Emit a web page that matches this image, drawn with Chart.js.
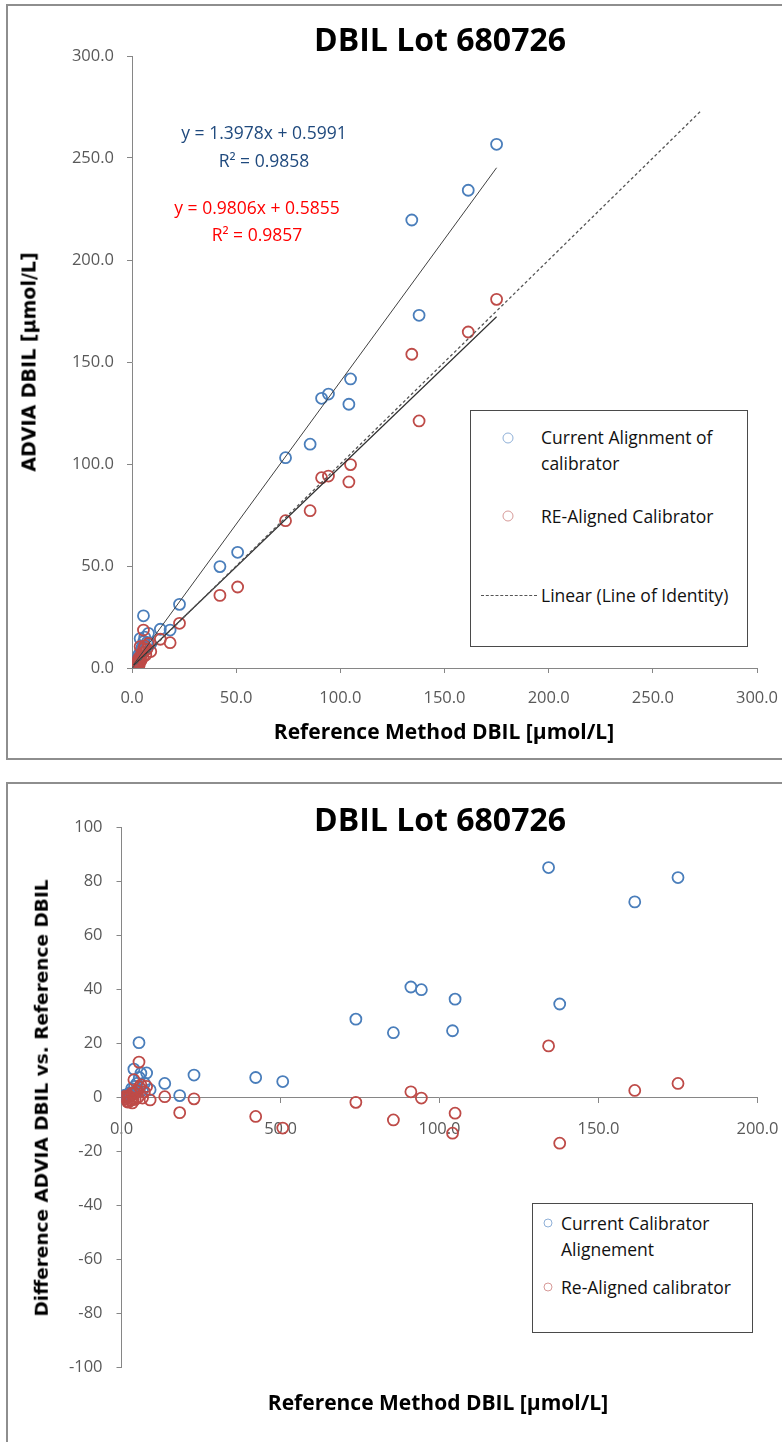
<!DOCTYPE html>
<html>
<head>
<meta charset="utf-8">
<script src="https://cdn.jsdelivr.net/npm/chart.js@4.4.1/dist/chart.umd.min.js"></script>
<style>
html,body{margin:0;padding:0;background:#fff;}
body{width:782px;height:1442px;position:relative;overflow:hidden;font-family:'Open Sans',sans-serif;color:#000;}
.frame{position:absolute;border:2px solid #8e8e8e;box-sizing:border-box;}
.wrap{position:absolute;left:0;width:782px;}
.t{position:absolute;white-space:nowrap;transform:translate(-50%,-50%);line-height:1;}
.title{font-family:'Open Sans',sans-serif;font-weight:700;font-size:32px;color:#000;}
.xt{font-family:'Open Sans',sans-serif;font-weight:700;font-size:21px;color:#000;}
.yt{font-family:'DejaVu Sans',sans-serif;font-weight:700;color:#000;transform:translate(-50%,-50%) rotate(-90deg);}
.eq{font-family:'Open Sans',sans-serif;font-size:17.5px;}
.legend{position:absolute;border:1.5px solid #4a4a4a;box-sizing:border-box;background:#fff;}
.lt{position:absolute;white-space:nowrap;font-family:'Open Sans',sans-serif;font-size:17.5px;line-height:26px;color:#111;}
.mk{position:absolute;border-radius:50%;box-sizing:border-box;transform:translate(-50%,-50%);}
</style>
</head>
<body>
<div class="frame" style="left:6px;top:4px;width:800px;height:756px;"></div>
<div class="frame" style="left:6px;top:782px;width:800px;height:700px;"></div>

<div class="wrap" style="top:0;height:760px;"><canvas id="c1"></canvas></div>
<div class="wrap" style="top:770px;height:672px;"><canvas id="c2"></canvas></div>

<!-- top chart texts -->
<div class="t title" style="left:440px;top:39px;">DBIL Lot 680726</div>
<div class="t yt" style="left:29px;top:362px;font-size:19px;">ADVIA DBIL [µmol/L]</div>
<div class="t xt" style="left:444px;top:731px;">Reference Method DBIL [µmol/L]</div>
<div class="t eq" style="left:264px;top:133px;color:#1F497D;">y = 1.3978x + 0.5991</div>
<div class="t eq" style="left:264px;top:161px;color:#1F497D;">R² = 0.9858</div>
<div class="t eq" style="left:257px;top:208px;color:#FF0000;">y = 0.9806x + 0.5855</div>
<div class="t eq" style="left:257px;top:235px;color:#FF0000;">R² = 0.9857</div>

<div class="legend" style="left:470px;top:410px;width:278px;height:237px;"></div>
<div class="mk" style="left:508px;top:438px;width:11px;height:11px;border:1.3px solid #8fb0d8;"></div>
<div class="lt" style="left:541px;top:424px;">Current Alignment of<br>calibrator</div>
<div class="mk" style="left:508px;top:516px;width:11px;height:11px;border:1.3px solid #d79a98;"></div>
<div class="lt" style="left:541px;top:503px;">RE-Aligned Calibrator</div>
<div style="position:absolute;left:481px;top:595px;width:56px;height:0;border-top:1.5px dashed #555;"></div>
<div class="lt" style="left:541px;top:582px;">Linear (Line of Identity)</div>

<!-- bottom chart texts -->
<div class="t title" style="left:440px;top:819px;">DBIL Lot 680726</div>
<div class="t yt" style="left:42px;top:1098px;font-size:18.5px;">Difference ADVIA DBIL vs. Reference DBIL</div>
<div class="t xt" style="left:438px;top:1402px;">Reference Method DBIL [µmol/L]</div>

<div class="legend" style="left:532px;top:1203px;width:221px;height:130px;"></div>
<div class="mk" style="left:548px;top:1223px;width:9px;height:9px;border:1.2px solid #8fb0d8;"></div>
<div class="lt" style="left:561px;top:1210px;">Current Calibrator<br>Alignement</div>
<div class="mk" style="left:548px;top:1287px;width:9px;height:9px;border:1.2px solid #d79a98;"></div>
<div class="lt" style="left:561px;top:1274px;">Re-Aligned calibrator</div>

<script>
// ---------- data ----------
const refX = [175.0, 161.4, 134.3, 137.8, 104.9, 104.1, 91.0, 94.3, 85.5, 73.7, 50.7, 42.2, 22.8, 18.3, 13.6,
  5.5, 3.9, 7.9, 6.1, 9.0, 4.8, 3.2, 2.6, 2.1, 1.6, 1.1, 0.8, 3.6, 5.2, 6.6, 2.9, 4.3, 1.4, 7.2, 4.1, 2.3, 3.4, 5.6, 1.9];
const currentY = [256.7, 234.2, 219.6, 172.9, 141.7, 129.3, 132.2, 134.3, 109.7, 103.1, 56.7, 49.7, 31.2, 18.6, 19.0,
  25.6, 14.4, 17.0, 15.1, 11.9, 10.0, 6.5, 4.3, 3.4, 2.6, 1.9, 1.4, 5.2, 7.9, 9.4, 3.8, 6.1, 1.6, 12.5, 8.2, 2.6, 4.6, 13.0, 1.9];
const realignedY = [180.7, 164.7, 153.8, 121.1, 99.7, 91.2, 93.3, 94.1, 77.1, 72.2, 39.7, 35.6, 21.9, 12.4, 14.1,
  18.6, 10.5, 12.0, 10.8, 8.1, 7.2, 4.8, 3.0, 2.4, 1.9, 1.4, 1.0, 2.9, 5.3, 6.4, 1.9, 3.6, 0.9, 9.3, 5.8, 0.7, 1.4, 9.5, 0.2];
const diffCurrent = [81.4, 72.4, 85.1, 34.6, 36.4, 24.7, 40.9, 39.9, 24.0, 29.0, 5.9, 7.4, 8.3, 0.7, 5.2,
  20.3, 10.5, 9.1, 9.0, 2.9, 5.2, 3.3, 1.7, 1.3, 1.0, 0.8, 0.6, 1.6, 2.7, 2.8, 0.9, 1.8, 0.2, 5.3, 4.1, 0.3, 1.2, 7.4, 0.0];
const diffRealigned = [5.2, 2.6, 19.1, -16.9, -5.8, -13.2, 2.1, -0.2, -8.3, -1.8, -11.3, -7.0, -0.5, -5.6, 0.3,
  13.1, 6.6, 4.1, 4.7, -0.9, 2.4, 1.6, 0.4, 0.3, 0.3, 0.3, 0.2, -0.7, 0.1, -0.2, -1.0, -0.7, -0.5, 2.1, 1.7, -1.6, -2.0, 3.9, -1.7];
const trendSlope = [1.3978, 0.9806];
const trendIntercept = [0.5991, 0.5855];
const identityLine = [0, 273];
const topTicks = [0, 50, 100, 150, 200, 250, 300];
const bottomXTicks = [0, 50, 100, 150, 200];
const bottomYTicks = [-100, -80, -60, -40, -20, 0, 20, 40, 60, 80, 100];

// ---------- helpers ----------
const BLUE = '#4a7ebb', RED = '#be4b48', AXIS = '#868686', TICK = '#595959';
const pts = (xs, ys) => xs.map((x, i) => ({x, y: ys[i]}));
const xMin = Math.min(...refX), xMax = Math.max(...refX);
const trend = k => [xMin, xMax].map(x => ({x, y: trendSlope[k] * x + trendIntercept[k]}));
const tickFont = {family: "'Open Sans', sans-serif", size: 16.5};
const setTicks = arr => s => { s.ticks = arr.map(v => ({value: v})); };
const noPad = s => { s.paddingLeft = 0; s.paddingRight = 0; s.paddingTop = 0; s.paddingBottom = 0; };
const pointDs = (data, color, order) => ({
  data, showLine: false, pointStyle: 'circle', pointRadius: 5.5, pointBorderWidth: 1.8,
  pointBorderColor: color, pointBackgroundColor: 'rgba(0,0,0,0)', order
});
const axisCommon = (arr, fmt, pad) => ({
  type: 'linear', min: arr[0], max: arr[arr.length - 1],
  afterBuildTicks: setTicks(arr),
  grid: {display: true, drawOnChartArea: false, drawTicks: true, tickLength: 5, color: AXIS},
  border: {display: true, color: AXIS, width: 1},
  ticks: {font: tickFont, color: TICK, padding: pad, callback: fmt, autoSkip: false, maxRotation: 0}
});
Chart.defaults.animation = false;

// ---------- top chart ----------
new Chart(document.getElementById('c1'), {
  type: 'scatter',
  data: {datasets: [
    {data: identityLine.map(v => ({x: v, y: v})), showLine: true, pointRadius: 0, borderColor: '#555',
     borderWidth: 1.3, borderDash: [3, 2.5], order: 0},
    {data: trend(0), showLine: true, pointRadius: 0, borderColor: '#404040', borderWidth: 1, order: 0},
    {data: trend(1), showLine: true, pointRadius: 0, borderColor: '#303030', borderWidth: 1.2, order: 0},
    pointDs(pts(refX, currentY), BLUE, 2),
    pointDs(pts(refX, realignedY), RED, 1)
  ]},
  options: {
    responsive: true, maintainAspectRatio: false,
    layout: {padding: {left: 0, right: 25, top: 56, bottom: 0}},
    plugins: {legend: {display: false}, tooltip: {enabled: false}},
    scales: {
      x: Object.assign(axisCommon(topTicks, v => v.toFixed(1), 15), {position: 'bottom', afterFit: s => { s.height = 92; noPad(s); }}),
      y: Object.assign(axisCommon(topTicks, v => v.toFixed(1), 13), {position: 'left', afterFit: s => { s.width = 132; noPad(s); }})
    }
  }
});

// ---------- bottom chart ----------
new Chart(document.getElementById('c2'), {
  type: 'scatter',
  data: {datasets: [
    pointDs(pts(refX, diffCurrent), BLUE, 2),
    pointDs(pts(refX, diffRealigned), RED, 1)
  ]},
  options: {
    responsive: true, maintainAspectRatio: false,
    layout: {padding: {left: 0, right: 24.5, top: 57.3, bottom: 74.3}},
    plugins: {legend: {display: false}, tooltip: {enabled: false}},
    scales: {
      x: Object.assign(axisCommon(bottomXTicks, v => v.toFixed(1), 17), {position: {y: 0}, afterFit: s => { noPad(s); }}),
      y: Object.assign(axisCommon(bottomYTicks, v => String(v), 14), {position: 'left', afterFit: s => { s.width = 121.5; noPad(s); }})
    }
  }
});
</script>
</body>
</html>
